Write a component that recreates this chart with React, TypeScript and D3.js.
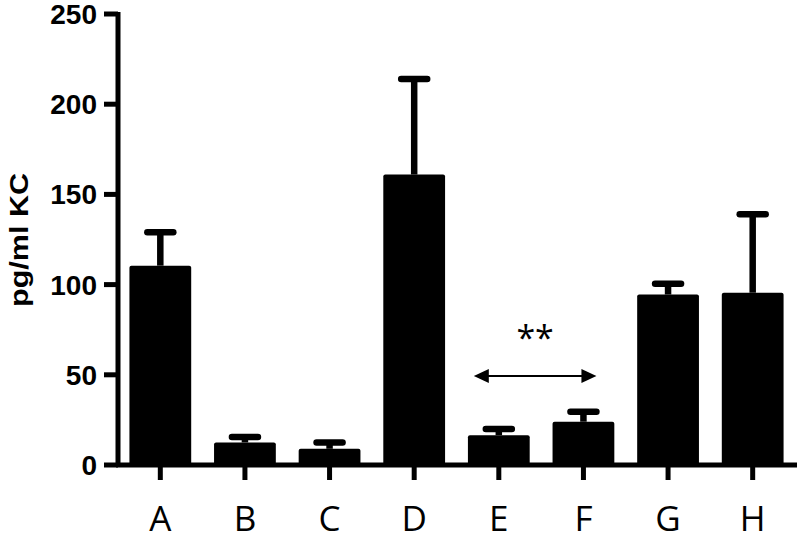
import * as d3 from "d3";

// Group labels and values (mean, mean + SEM)
const groups = ["A", "B", "C", "D", "E", "F", "G", "H"];
const means = [110.5, 12.5, 9, 161, 16.5, 24, 94.5, 95.5];
const upper = [129, 15.5, 12.5, 214, 20, 29.5, 100.5, 139];
const yTicks = [0, 50, 100, 150, 200, 250];

const W = 800;
const H = 541;
const left = 118;
const right = 797;
const top = 14;
const bottom = 465;

export default function App() {
  const x = d3
    .scaleBand<string>()
    .domain(groups)
    .range([left, 795])
    .paddingInner(0.27)
    .paddingOuter(0.135);
  const y = d3.scaleLinear().domain([0, 250]).range([bottom, top]);
  const bw = x.bandwidth();

  // significance arrow between E and F
  const arrowY = 376;
  const ax0 = (x("E") ?? 0) + bw / 2 - 25;
  const ax1 = (x("F") ?? 0) + bw / 2 + 13;

  return (
    <svg
      width={W}
      height={H}
      style={{ position: "absolute", left: 0, top: 0, background: "#fff" }}
    >
      {/* bars */}
      {groups.map((g, i) => (
        <rect
          key={g}
          x={x(g)}
          y={y(means[i])}
          width={bw}
          height={bottom - y(means[i])}
          rx={2}
          fill="#000"
        />
      ))}

      {/* error bars */}
      {groups.map((g, i) => {
        const cx = (x(g) ?? 0) + bw / 2;
        return (
          <g key={g} stroke="#000" strokeWidth={6.5}>
            <line x1={cx} x2={cx} y1={y(means[i])} y2={y(upper[i])} />
            <line
              x1={cx - 13}
              x2={cx + 13}
              y1={y(upper[i])}
              y2={y(upper[i])}
              strokeLinecap="round"
            />
          </g>
        );
      })}

      {/* y axis */}
      <line x1={left} x2={left} y1={top - 2} y2={bottom + 2} stroke="#000" strokeWidth={5} />
      {yTicks.map((t) => (
        <g key={t}>
          <line x1={left - 14} x2={left} y1={y(t)} y2={y(t)} stroke="#000" strokeWidth={5} />
          <text
            x={97}
            y={y(t)}
            dy="0.36em"
            textAnchor="end"
            fontFamily="'Liberation Sans', Arial, sans-serif"
            fontWeight="bold"
            fontSize={28}
            fill="#000"
          >
            {t}
          </text>
        </g>
      ))}
      <text
        transform={`translate(28, 240) rotate(-90)`}
        textAnchor="middle"
        fontFamily="'Liberation Sans', Arial, sans-serif"
        fontWeight="bold"
        fontSize={26}
        textLength={134}
        lengthAdjust="spacingAndGlyphs"
        fill="#000"
      >
        pg/ml KC
      </text>

      {/* x axis */}
      <line x1={left - 2} x2={right} y1={bottom} y2={bottom} stroke="#000" strokeWidth={5} />
      {groups.map((g) => {
        const cx = (x(g) ?? 0) + bw / 2;
        return (
          <g key={g}>
            <line x1={cx} x2={cx} y1={bottom} y2={bottom + 15} stroke="#000" strokeWidth={5} />
            <text
              x={cx}
              y={531}
              textAnchor="middle"
              fontFamily="'Open Sans', sans-serif"
              fontSize={35}
              fill="#000"
            >
              {g}
            </text>
          </g>
        );
      })}

      {/* significance */}
      <line x1={ax0 + 12} x2={ax1 - 12} y1={arrowY} y2={arrowY} stroke="#000" strokeWidth={2} />
      <path d={`M${ax0},${arrowY} L${ax0 + 15},${arrowY - 7} L${ax0 + 15},${arrowY + 7} Z`} fill="#000" />
      <path d={`M${ax1},${arrowY} L${ax1 - 15},${arrowY - 7} L${ax1 - 15},${arrowY + 7} Z`} fill="#000" />
      <text
        x={(ax0 + ax1) / 2}
        y={350}
        textAnchor="middle"
        fontFamily="'Open Sans', sans-serif"
        fontSize={34}
        fill="#000"
      >
        **
      </text>
    </svg>
  );
}
